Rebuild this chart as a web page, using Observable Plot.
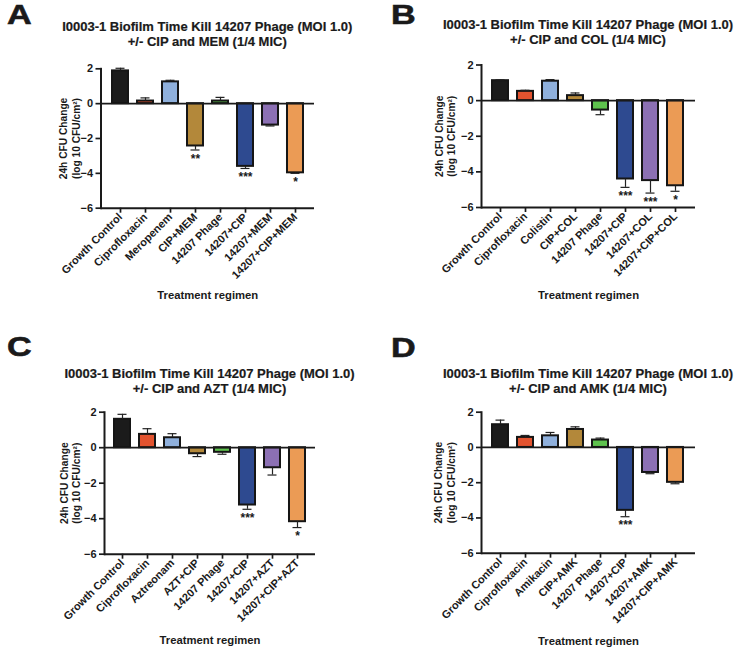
<!DOCTYPE html>
<html>
<head>
<meta charset="utf-8">
<script src="https://cdn.jsdelivr.net/npm/d3@7"></script>
<script src="https://cdn.jsdelivr.net/npm/@observablehq/plot@0.6"></script>
<style>
  html, body { margin: 0; padding: 0; background: #fff; }
  body { font-family: "Liberation Sans", Arial, sans-serif; color: #1a1a1a; }
  #root { position: relative; width: 750px; height: 662px; overflow: hidden; }
  .letter { position: absolute; font-weight: bold; font-size: 28px; line-height: 28px; transform: scaleX(1.22); transform-origin: left top; -webkit-text-stroke: 0.6px #1a1a1a; }
  .title { position: absolute; width: 375px; font-weight: bold; font-size: 13px; line-height: 15.5px; text-align: center; white-space: nowrap; -webkit-text-stroke: 0.2px #1a1a1a; }
  .chart { position: absolute; }
</style>
</head>
<body>
<div id="root"></div>
<script>
// ---------- data ----------
const titleLine1 = "I0003-1 Biofilm Time Kill 14207 Phage (MOI 1.0)";
const yTicks = [-6, -4, -2, 0, 2];
const yLabel = "24h CFU Change\n(log 10 CFU/cm²)";
const xLabel = "Treatment regimen";
const barColors = ["#1b1b1b", "#e2532f", "#8fb0dc", "#b3883a", "#5ec24d", "#2e4a90", "#8c70b4", "#eb9b55"];

const categoriesA = ["Growth Control", "Ciprofloxacin", "Meropenem", "CIP+MEM", "14207 Phage", "14207+CIP", "14207+MEM", "14207+CIP+MEM"];
const meansA = [1.88, 0.15, 1.25, -2.43, 0.15, -3.60, -1.23, -3.97];
const semA   = [0.15, 0.18, 0.09, 0.23, 0.21, 0.12, 0.05, 0.03];
const sigA   = ["", "", "", "**", "", "***", "", "*"];

const categoriesB = ["Growth Control", "Ciprofloxacin", "Colistin", "CIP+COL", "14207 Phage", "14207+CIP", "14207+COL", "14207+CIP+COL"];
const meansB = [1.12, 0.52, 1.09, 0.28, -0.53, -4.40, -4.49, -4.78];
const semB   = [0.05, 0.06, 0.09, 0.15, 0.26, 0.47, 0.70, 0.31];
const sigB   = ["", "", "", "", "", "***", "***", "*"];

const categoriesC = ["Growth Control", "Ciprofloxacin", "Aztreonam", "AZT+CIP", "14207 Phage", "14207+CIP", "14207+AZT", "14207+CIP+AZT"];
const meansC = [1.60, 0.75, 0.56, -0.34, -0.26, -3.23, -1.13, -4.17];
const semC   = [0.28, 0.32, 0.23, 0.16, 0.11, 0.24, 0.41, 0.33];
const sigC   = ["", "", "", "", "", "***", "", "*"];

const categoriesD = ["Growth Control", "Ciprofloxacin", "Amikacin", "CIP+AMK", "14207 Phage", "14207+CIP", "14207+AMK", "14207+CIP+AMK"];
const meansD = [1.29, 0.57, 0.66, 1.02, 0.42, -3.57, -1.42, -1.98];
const semD   = [0.26, 0.11, 0.19, 0.15, 0.11, 0.36, 0.07, 0.08];
const sigD   = ["", "", "", "", "", "***", "", ""];

// ---------- layout (page pixels) ----------
const panels = [
  {letter: "A", title2: "+/- CIP and MEM (1/4 MIC)", cats: categoriesA, means: meansA, sem: semA, sig: sigA,
   left: 0, axisX: 100.5, right: 314, yTop: 68.3, yBot: 207.7, titleY: 26.7, letterX: 6.5, letterY: 1, ylabX: 69, xlabY: 295},
  {letter: "B", title2: "+/- CIP and COL (1/4 MIC)", cats: categoriesB, means: meansB, sem: semB, sig: sigB,
   left: 375, axisX: 481, right: 695, yTop: 64.5, yBot: 207, titleY: 24.5, letterX: 391, letterY: 1, ylabX: 444.5, xlabY: 295},
  {letter: "C", title2: "+/- CIP and AZT (1/4 MIC)", cats: categoriesC, means: meansC, sem: semC, sig: sigC,
   left: 0, axisX: 104, right: 315, yTop: 411.7, yBot: 553.7, titleY: 373.5, letterX: 6.5, letterY: 333, ylabX: 69.3, xlabY: 640},
  {letter: "D", title2: "+/- CIP and AMK (1/4 MIC)", cats: categoriesD, means: meansD, sem: semD, sig: sigD,
   left: 375, axisX: 481, right: 695, yTop: 411.7, yBot: 552.7, titleY: 373.5, letterX: 391, letterY: 334, ylabX: 444, xlabY: 641}
];

const root = document.getElementById("root");

for (const p of panels) {
  // panel letter
  const L = document.createElement("div");
  L.className = "letter";
  L.textContent = p.letter;
  L.style.left = p.letterX + "px";
  L.style.top = p.letterY + "px";
  root.appendChild(L);

  // title
  const cx = (p.axisX + p.right) / 2;
  const T = document.createElement("div");
  T.className = "title";
  T.style.left = (cx - 187.5) + "px";
  T.style.top = (p.titleY - 7.75) + "px";
  T.appendChild(document.createTextNode(titleLine1));
  T.appendChild(document.createElement("br"));
  T.appendChild(document.createTextNode(p.title2));
  root.appendChild(T);

  // data table
  const data = p.cats.map((c, i) => ({
    cat: c,
    mean: p.means[i],
    end: p.means[i] + Math.sign(p.means[i]) * p.sem[i],
    sig: p.sig[i]
  }));

  const svgTop = Math.floor(p.yTop) - 20;
  const marginTop = p.yTop - svgTop;
  const marginBottom = 100;
  const height = marginTop + (p.yBot - p.yTop) + marginBottom;
  const width = 375;
  const marginLeft = p.axisX - p.left;
  const marginRight = p.left + width - p.right;

  const chart = Plot.plot({
    width, height, marginTop, marginBottom, marginLeft, marginRight,
    style: {fontFamily: "Liberation Sans, Arial, sans-serif", fontWeight: "bold", color: "#1a1a1a", background: "transparent", overflow: "visible"},
    x: {domain: p.cats, paddingInner: 0.343, paddingOuter: 0.35, label: null},
    y: {domain: [-6, 2], label: null},
    color: {domain: p.cats, range: barColors},
    marks: [
      Plot.barY(data, {x: "cat", y: "mean", fill: "cat", stroke: "#151515", strokeWidth: 2}),
      Plot.ruleX(data, {x: "cat", y1: "mean", y2: "end", stroke: "#222", strokeWidth: 1.2}),
      Plot.tickY(data, {x: "cat", y: "end", stroke: "#222", strokeWidth: 1.2, insetLeft: 3.5, insetRight: 3.5}),
      Plot.ruleY([0], {stroke: "#1a1a1a", strokeWidth: 1.7}),
      Plot.ruleY([-6], {stroke: "#1a1a1a", strokeWidth: 2}),
      Plot.frame({anchor: "left", stroke: "#1a1a1a", strokeWidth: 2}),
      Plot.axisY({ticks: yTicks, tickSize: 5, tickPadding: 3, fontSize: 11, fontWeight: "bold", label: null, strokeWidth: 1.7}),
      Plot.axisX({anchor: "bottom", tickSize: 5, tickPadding: 2, tickRotate: -45, fontSize: 11, fontWeight: "bold", label: null, strokeWidth: 1.7}),
      Plot.text(data.filter(d => d.sig !== ""), {x: "cat", y: "end", text: "sig", lineAnchor: "top", dy: 4, fontSize: 12, fontWeight: "bold"}),
      Plot.text([yLabel], {frameAnchor: "left", text: d => d, rotate: -90, textAnchor: "middle", lineAnchor: "middle", dx: p.ylabX - p.axisX, fontSize: 10.2, lineHeight: 1.25, fontWeight: "bold"}),
      Plot.text([xLabel], {frameAnchor: "bottom", text: d => d, textAnchor: "middle", lineAnchor: "middle", dy: p.xlabY - p.yBot, fontSize: 11.3, fontWeight: "bold"})
    ]
  });
  chart.classList.add("chart");
  chart.style.left = p.left + "px";
  chart.style.top = svgTop + "px";
  root.appendChild(chart);
}
</script>
</body>
</html>
